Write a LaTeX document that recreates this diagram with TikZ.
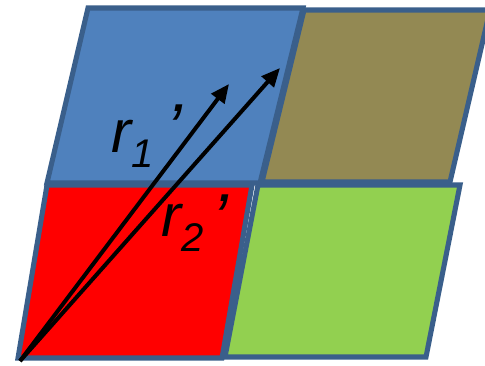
\documentclass[tikz,border=0pt]{standalone}
\usepackage{fontspec}
\setmainfont{Liberation Sans}
\usetikzlibrary{arrows.meta}
\definecolor{cellblue}{HTML}{4F81BD}
\definecolor{cellolive}{HTML}{938953}
\definecolor{cellred}{HTML}{FF0000}
\definecolor{cellgreen}{HTML}{92D050}
\definecolor{celledge}{HTML}{3A5F8B}

\begin{document}
\begin{tikzpicture}[x=0.75pt,y=-0.75pt,>={Triangle[length=14pt,width=12pt]},
cell/.style={draw=celledge,line width=3.8pt,line join=miter},
vec/.style={->,line width=3pt},
lbl/.style={inner sep=0pt,anchor=base west,font=\itshape\fontsize{45}{45}\selectfont}]
\useasboundingbox (0,0) rectangle (485,366);
\clip (0,0) rectangle (485,366);
\draw[cell,fill=cellblue] (88,8) -- (303,8) -- (260,183) -- (47,183) -- cycle;
\draw[cell,fill=cellolive] (304,10) -- (490,10) -- (450,182) -- (262,182) -- cycle;
\draw[cell,fill=cellred] (47,185) -- (252,185) -- (222,358) -- (18,358) -- cycle;
\draw[cell,fill=cellgreen] (258,185) -- (460,185) -- (426,357) -- (225,357) -- cycle;
\coordinate (origin) at (20,361);
\coordinate (tip1) at (229,84);
\coordinate (tip2) at (280,68);
\draw[vec] (origin) -- (tip1);
\draw[vec] (origin) -- (tip2);
\node[lbl] (r1) at (111,153) {r\raisebox{-11pt}{\fontsize{30}{30}\selectfont 1}\hspace{9.5pt}{\fontsize{52}{52}\selectfont ’}};
\node[lbl] (r2) at (161,237) {r\raisebox{-11pt}{\fontsize{30}{30}\selectfont 2}\hspace{7pt}\raisebox{-4pt}{\fontsize{52}{52}\selectfont ’}};
\end{tikzpicture}
\end{document}
